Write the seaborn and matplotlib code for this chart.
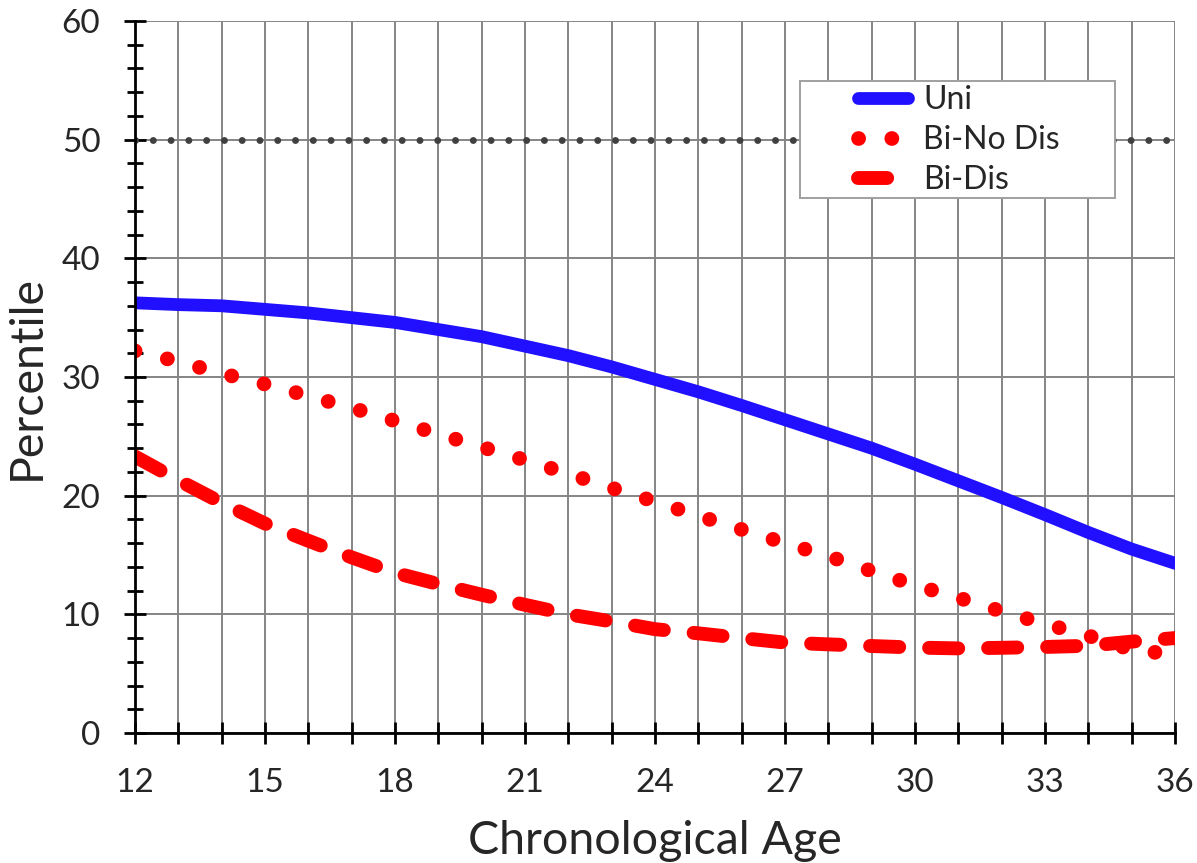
import matplotlib
matplotlib.use("Agg")
import matplotlib.pyplot as plt
import seaborn as sns
import numpy as np
import pandas as pd
from matplotlib.patches import Rectangle
from matplotlib.ticker import MultipleLocator, FixedLocator

# ---- data ----
ages = [12, 13, 14, 15, 16, 17, 18, 19, 20, 21, 22, 23, 24,
        25, 26, 27, 28, 29, 30, 31, 32, 33, 34, 35, 36]
uni = [36.25, 36.1, 36.0, 35.7, 35.4, 35.0, 34.6, 34.0, 33.4, 32.6, 31.8, 30.85, 29.8,
       28.75, 27.6, 26.4, 25.2, 24.0, 22.65, 21.25, 19.85, 18.4, 16.9, 15.5, 14.3]
bi_dis = [23.3, 21.3, 19.4, 17.65, 16.2, 14.8, 13.5, 12.55, 11.65, 10.8, 10.0, 9.4, 8.75,
          8.4, 8.0, 7.62, 7.47, 7.33, 7.2, 7.13, 7.18, 7.25, 7.35, 7.7, 8.0]
ages_nodis = [12, 13, 14, 15, 16, 17, 18, 19, 20, 21, 22, 23, 24,
              25, 26, 27, 28, 29, 30, 31, 32, 33, 34, 35, 35.5, 36]
bi_nodis = [32.2, 31.3, 30.3, 29.4, 28.4, 27.4, 26.3, 25.2, 24.1, 23.0, 21.85, 20.65, 19.5,
            18.3, 17.15, 16.0, 14.9, 13.65, 12.45, 11.4, 10.25, 9.2, 8.2, 7.0, 6.7, 8.0]
series_names = ["Uni", "Bi-No Dis", "Bi-Dis"]
ref_level = 50
x_labels = [12, 15, 18, 21, 24, 27, 30, 33, 36]
y_labels = [0, 10, 20, 30, 40, 50, 60]

sns.set_style("white")
plt.rcParams['font.family'] = ['Lato', 'DejaVu Sans']

W, H = 1197, 863
fig = plt.figure(figsize=(W / 100, H / 100), dpi=100)
ax = fig.add_axes([135 / W, 1 - 733 / H, (1175 - 135) / W, (733 - 21) / H])

blue = "#2010ff"
red = "#ff0000"

sns.lineplot(x=ages, y=uni, ax=ax, color=blue, lw=9.2, solid_capstyle='round',
             label=series_names[0], zorder=4)
sns.lineplot(x=ages_nodis, y=bi_nodis, ax=ax, color=red, lw=10.6,
             linestyle=(0, (0.01, 2.25)), dash_capstyle='round',
             label=series_names[1], zorder=4)
sns.lineplot(x=ages, y=bi_dis, ax=ax, color=red, lw=10.0,
             linestyle=(0, (2.1, 2.15)), dash_capstyle='round',
             label=series_names[2], zorder=4)

ax.axhline(ref_level, color="#404040", lw=5.0, linestyle=(0, (0.01, 2.55)),
           dash_capstyle='round', zorder=3)

ax.set_xlim(12, 36)
ax.set_ylim(0, 60)

ax.xaxis.set_major_locator(FixedLocator(x_labels))
ax.xaxis.set_minor_locator(MultipleLocator(1))
ax.yaxis.set_major_locator(FixedLocator(y_labels))
ax.yaxis.set_minor_locator(MultipleLocator(2))

ax.grid(True, which='both', axis='x', color='#858585', lw=1.4, zorder=0)
ax.grid(True, which='major', axis='y', color='#858585', lw=1.4, zorder=0)
ax.set_axisbelow(True)

for s in ['top', 'right']:
    ax.spines[s].set_visible(False)
for s in ['left', 'bottom']:
    ax.spines[s].set_color('black')
    ax.spines[s].set_linewidth(2.0)
    ax.spines[s].set_zorder(6)

ax.tick_params(which='major', direction='inout', length=16, width=2.0,
               color='black', labelsize=24, left=True, bottom=True)
ax.tick_params(which='minor', direction='inout', length=12, width=2.0,
               color='black', left=True, bottom=True)
ax.tick_params(axis='x', which='minor', length=16)
ax.tick_params(axis='x', which='major', pad=17)
ax.tick_params(axis='y', which='major', pad=17)

ax.set_xlabel("Chronological Age", fontsize=33.5, labelpad=16)
ax.set_ylabel("Percentile", fontsize=33.5, labelpad=10)

# legend frame (fixed box) + entries
ax.add_patch(Rectangle((800 / W, 1 - 198 / H), 315 / W, 117 / H,
                       transform=fig.transFigure, facecolor='white',
                       edgecolor='#a0a0a0', lw=1.4, zorder=9, clip_on=False))
leg = ax.legend(loc='upper left', bbox_to_anchor=(858 / W, 1 - 85 / H),
                bbox_transform=fig.transFigure, frameon=False,
                fontsize=23, handlelength=1.55, handletextpad=0.5,
                borderpad=0.0, labelspacing=0.32, borderaxespad=0)
leg.set_zorder(10)

fig.savefig("out.png", dpi=100)
